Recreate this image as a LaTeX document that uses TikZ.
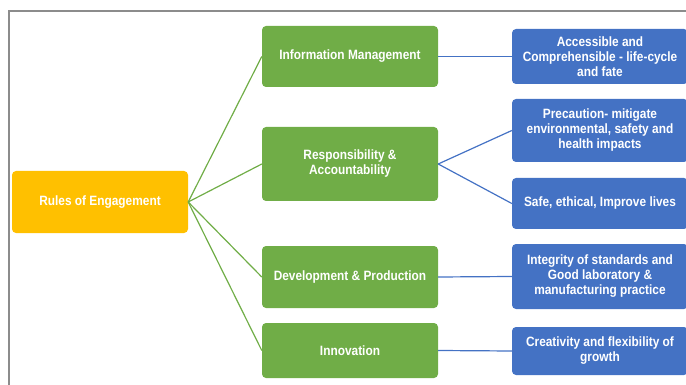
\documentclass[tikz,border=0pt]{standalone}
\usepackage{fontspec}
\setmainfont{Liberation Sans}[FakeStretch=0.88]
\definecolor{rootorange}{HTML}{FFC000}
\definecolor{areagreen}{HTML}{70AD47}
\definecolor{itemblue}{HTML}{4472C4}
\definecolor{framegrey}{HTML}{8C8C8C}
\begin{document}
\begin{tikzpicture}[x=1pt,y=-1pt]
    \tikzstyle box=[rounded corners=4pt,minimum width=176pt,inner sep=0pt,text=white,align=center,font=\bfseries\fontsize{13.5}{15}\selectfont]
    \tikzstyle rootbox=[box,fill=rootorange]
    \tikzstyle areabox=[box,fill=areagreen]
    \tikzstyle itembox=[box,fill=itemblue]
    \tikzstyle arealink=[areagreen,line width=1.2pt]
    \tikzstyle itemlink=[itemblue,line width=1.2pt]
    \useasboundingbox (0,0) rectangle (686,385);
    \draw[framegrey,line width=1.5pt] (9,385) -- (9,11) -- (686,11);
    \node[rootbox,minimum height=62pt] (rules) at (100,202) {Rules of Engagement};
    \node[areabox,minimum height=61pt] (info) at (350,56.5) {Information Management};
    \node[areabox,minimum height=74pt] (resp) at (350,164) {Responsibility \&\\Accountability};
    \node[areabox,minimum height=62pt] (devel) at (350,277) {Development \& Production};
    \node[areabox,minimum height=55pt] (innov) at (350,350.5) {Innovation};
    \node[itembox,minimum height=55pt] (access) at (600,56.5) {Accessible and\\Comprehensible - life-cycle\\and fate};
    \node[itembox,minimum height=63pt] (caution) at (600,130.5) {Precaution- mitigate\\environmental, safety and\\health impacts};
    \node[itembox,minimum height=51pt] (safe) at (600,203.5) {Safe, ethical, Improve lives};
    \node[itembox,minimum height=65pt] (integ) at (600,276.5) {Integrity of standards and\\Good laboratory \&\\manufacturing practice};
    \node[itembox,minimum height=48pt] (creat) at (600,351) {Creativity and flexibility of\\growth};
    \draw[arealink] (rules.east) -- (info.west);
    \draw[arealink] (rules.east) -- (resp.west);
    \draw[arealink] (rules.east) -- (devel.west);
    \draw[arealink] (rules.east) -- (innov.west);
    \draw[itemlink] (info.east) -- (access.west);
    \draw[itemlink] (resp.east) -- (caution.west);
    \draw[itemlink] (resp.east) -- (safe.west);
    \draw[itemlink] (devel.east) -- (integ.west);
    \draw[itemlink] (innov.east) -- (creat.west);
\end{tikzpicture}
\end{document}
